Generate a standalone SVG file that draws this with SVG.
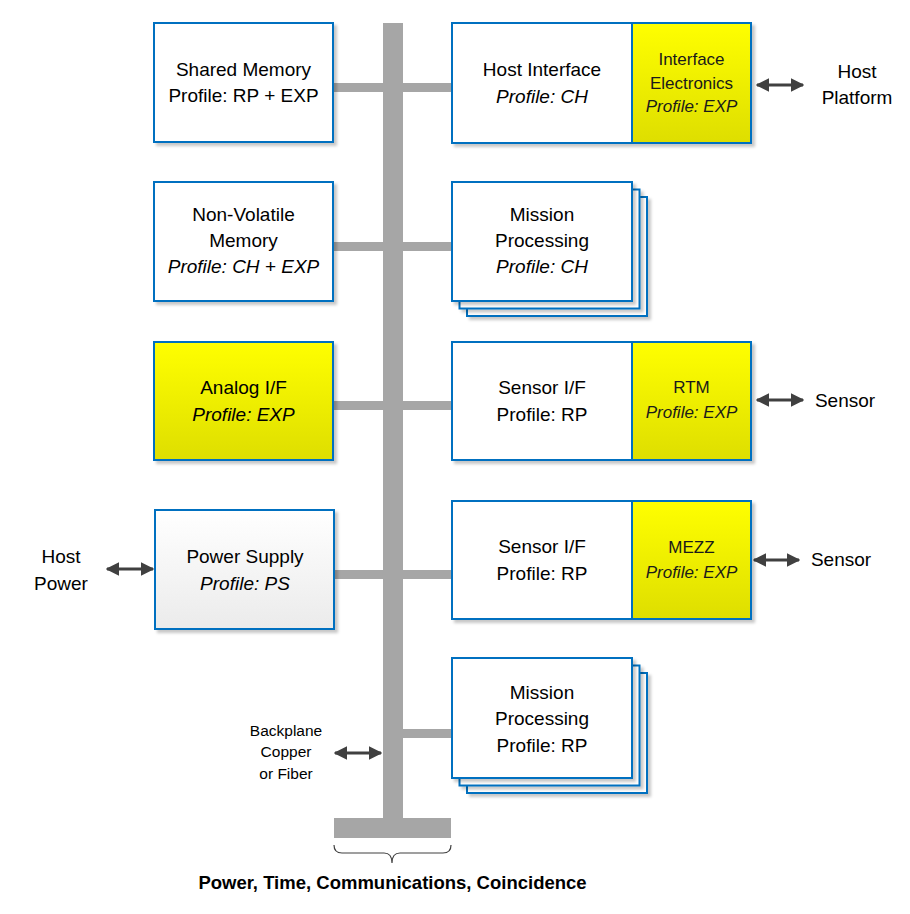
<svg xmlns="http://www.w3.org/2000/svg" width="910" height="914" viewBox="0 0 910 914">
<defs>
<linearGradient id="yel" x1="0" y1="0" x2="0" y2="1"><stop offset="0" stop-color="#ffff00"/><stop offset="1" stop-color="#dede00"/></linearGradient>
<linearGradient id="gry" x1="0" y1="0" x2="0" y2="1"><stop offset="0" stop-color="#ffffff"/><stop offset="1" stop-color="#ebebeb"/></linearGradient>
<filter id="sh" x="-10%" y="-10%" width="125%" height="125%"><feDropShadow dx="3" dy="3" stdDeviation="1.5" flood-color="#000" flood-opacity="0.22"/></filter>
<marker id="ah" viewBox="0 0 10 10" refX="9" refY="5" markerWidth="4.5" markerHeight="4.5" orient="auto-start-reverse" markerUnits="strokeWidth"><path d="M0,0 L10,5 L0,10 z" fill="#404040"/></marker>
</defs>
<style>
.box{fill:#fff;stroke:#0070c0;stroke-width:2}
.yb{fill:url(#yel);stroke:#0070c0;stroke-width:2}
.bus{fill:#a6a6a6}
.t{font-family:"Liberation Sans",Arial,sans-serif;font-size:19px;fill:#000;text-anchor:middle}
.s{font-family:"Liberation Sans",Arial,sans-serif;font-size:17px;fill:#1a1a1a;text-anchor:middle}
.i{font-style:italic}
.arr{stroke:#404040;stroke-width:3;fill:none;marker-start:url(#ah);marker-end:url(#ah)}
</style>

<g id="connectors">
<rect class="bus" x="383" y="23" width="20" height="795"/>
<rect class="bus" x="334" y="818" width="117" height="20"/>
<rect class="bus" x="333" y="83" width="50" height="9"/>
<rect class="bus" x="403" y="83" width="50" height="9"/>
<rect class="bus" x="333" y="242" width="50" height="9"/>
<rect class="bus" x="403" y="242" width="50" height="9"/>
<rect class="bus" x="333" y="401" width="50" height="9"/>
<rect class="bus" x="403" y="401" width="50" height="9"/>
<rect class="bus" x="335" y="570" width="48" height="9"/>
<rect class="bus" x="403" y="570" width="50" height="9"/>
<rect class="bus" x="403" y="729" width="50" height="9"/>
<line class="arr" x1="757" y1="85" x2="803" y2="85"/>
<line class="arr" x1="757" y1="400" x2="803" y2="400"/>
<line class="arr" x1="754" y1="560" x2="799" y2="560"/>
<line class="arr" x1="107" y1="569" x2="153" y2="569"/>
<line class="arr" x1="335" y1="753" x2="381" y2="753"/>
<path d="M334,845 q0,8 8,8 L384,853 q8,0 8,10 q0,-10 8,-10 L443,853 q8,0 8,-8" fill="none" stroke="#404040" stroke-width="1.2"/>
</g>

<g id="shared-memory">
<rect class="box" x="154" y="23" width="179" height="119" filter="url(#sh)"/>
<text class="t" x="243.5" y="76">Shared Memory</text>
<text class="t" x="243.5" y="102">Profile: RP + EXP</text>
</g>

<g id="host-interface">
<rect class="box" x="452" y="23" width="299" height="120" filter="url(#sh)"/>
<rect class="yb" x="632" y="23" width="119" height="120"/>
<rect x="452" y="23" width="180" height="120" fill="none" stroke="#0070c0" stroke-width="2"/>
<text class="t" x="542" y="76">Host Interface</text>
<text class="t i" x="542" y="103">Profile: CH</text>
<text class="s" x="691.5" y="65">Interface</text>
<text class="s" x="691.5" y="89">Electronics</text>
<text class="s i" x="691.5" y="112">Profile: EXP</text>
</g>

<g id="host-platform">
<text class="t" x="857" y="78">Host</text>
<text class="t" x="857" y="104">Platform</text>
</g>

<g id="non-volatile-memory">
<rect class="box" x="154" y="182" width="179" height="119" filter="url(#sh)"/>
<text class="t" x="243.5" y="221">Non-Volatile</text>
<text class="t" x="243.5" y="247">Memory</text>
<text class="t i" x="243.5" y="273">Profile: CH + EXP</text>
</g>

<g id="mission-processing-ch">
<rect class="box" x="467" y="197" width="180" height="119" filter="url(#sh)"/>
<rect class="box" x="459.5" y="189.5" width="180" height="119" filter="url(#sh)"/>
<rect class="box" x="452" y="182" width="180" height="119" filter="url(#sh)"/>
<text class="t" x="542" y="221">Mission</text>
<text class="t" x="542" y="247">Processing</text>
<text class="t i" x="542" y="273">Profile: CH</text>
</g>

<g id="analog-if">
<rect class="yb" x="154" y="342" width="179" height="118" filter="url(#sh)"/>
<text class="t" x="243.5" y="394">Analog I/F</text>
<text class="t i" x="243.5" y="421">Profile: EXP</text>
</g>

<g id="sensor-if-rtm">
<rect class="box" x="452" y="342" width="299" height="118" filter="url(#sh)"/>
<rect class="yb" x="632" y="342" width="119" height="118"/>
<rect x="452" y="342" width="180" height="118" fill="none" stroke="#0070c0" stroke-width="2"/>
<text class="t" x="542" y="394">Sensor I/F</text>
<text class="t" x="542" y="421">Profile: RP</text>
<text class="s" x="691.5" y="393">RTM</text>
<text class="s i" x="691.5" y="418">Profile: EXP</text>
</g>

<g id="sensor-1">
<text class="t" x="845" y="407">Sensor</text>
</g>

<g id="power-supply">
<rect x="155" y="510" width="179" height="119" fill="url(#gry)" stroke="#0070c0" stroke-width="2" filter="url(#sh)"/>
<text class="t" x="245" y="563">Power Supply</text>
<text class="t i" x="245" y="590">Profile: PS</text>
</g>

<g id="host-power">
<text class="t" x="61" y="563">Host</text>
<text class="t" x="61" y="590">Power</text>
</g>

<g id="sensor-if-mezz">
<rect class="box" x="452" y="501" width="299" height="118" filter="url(#sh)"/>
<rect class="yb" x="632" y="501" width="119" height="118"/>
<rect x="452" y="501" width="180" height="118" fill="none" stroke="#0070c0" stroke-width="2"/>
<text class="t" x="542" y="553">Sensor I/F</text>
<text class="t" x="542" y="580">Profile: RP</text>
<text class="s" x="691.5" y="553">MEZZ</text>
<text class="s i" x="691.5" y="578">Profile: EXP</text>
</g>

<g id="sensor-2">
<text class="t" x="841" y="566">Sensor</text>
</g>

<g id="mission-processing-rp">
<rect class="box" x="467" y="673" width="180" height="120" filter="url(#sh)"/>
<rect class="box" x="459.5" y="665.5" width="180" height="120" filter="url(#sh)"/>
<rect class="box" x="452" y="658" width="180" height="120" filter="url(#sh)"/>
<text class="t" x="542" y="699">Mission</text>
<text class="t" x="542" y="725">Processing</text>
<text class="t" x="542" y="752">Profile: RP</text>
</g>

<g id="backplane-label">
<text class="t" x="286" y="736" style="font-size:15.5px">Backplane</text>
<text class="t" x="286" y="757" style="font-size:15.5px">Copper</text>
<text class="t" x="286" y="779" style="font-size:15.5px">or Fiber</text>
</g>

<g id="bus-label">
<text class="t" x="392.5" y="889" style="font-weight:bold;font-size:18.5px">Power, Time, Communications, Coincidence</text>
</g>
</svg>
